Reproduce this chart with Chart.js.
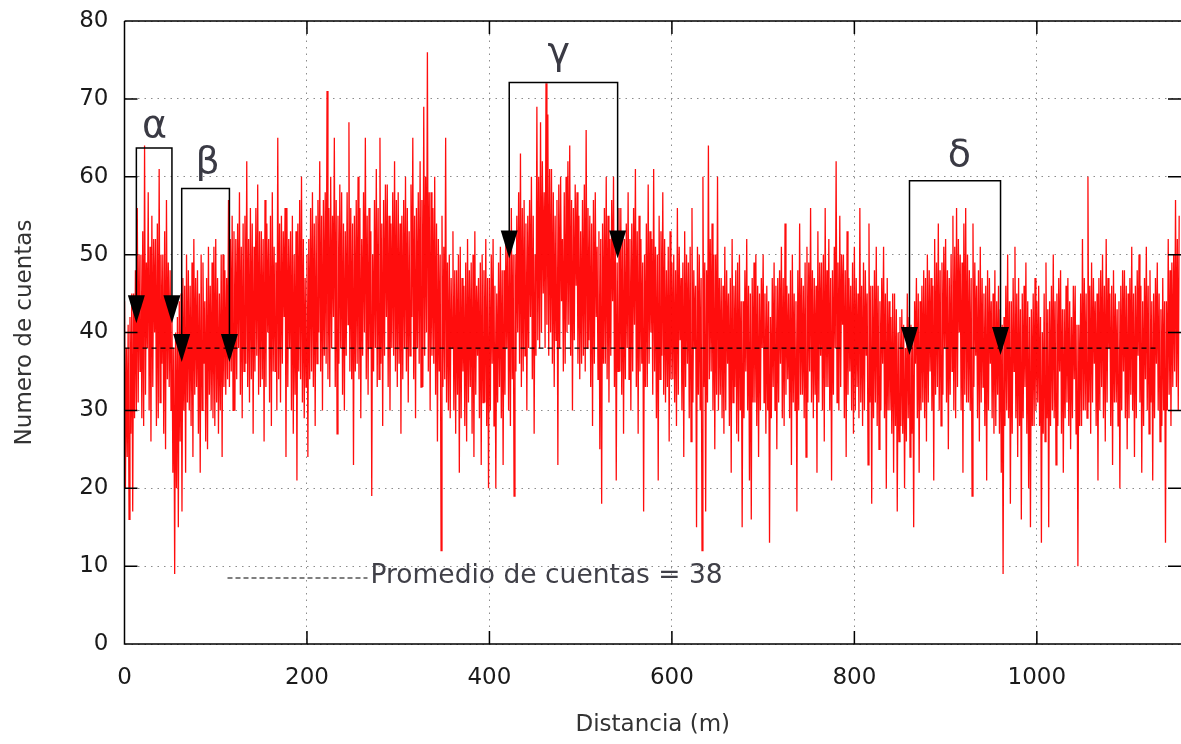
<!DOCTYPE html>
<html>
<head>
<meta charset="utf-8">
<script src="https://cdn.jsdelivr.net/npm/chart.js@4.4.0/dist/chart.umd.min.js"></script>
<style>
  html, body { margin: 0; padding: 0; background: #fff; }
</style>
</head>
<body>
<canvas id="grafico" width="1181" height="744"></canvas>
<script>
// metros entre muestras
const paso = 1;

const cuentas = [
  44, 20, 38, 24, 41, 16, 42, 27, 45, 17, 45, 29, 48, 30, 56, 31, 50, 35, 50, 29, 53, 28, 64, 32, 49, 38, 58, 30, 51, 26, 55, 33, 52, 40, 52, 28, 54, 29, 61, 31, 50, 36, 50, 27, 53, 25, 57, 34, 49, 33,
  48, 30, 43, 22, 38, 9, 40, 20, 42, 15, 44, 26, 45, 17, 47, 30, 46, 22, 50, 31, 48, 30, 46, 28, 49, 24, 52, 32, 47, 33, 48, 27, 45, 22, 50, 30, 49, 36, 44, 26, 47, 25, 51, 32, 46, 30, 49, 29, 51, 28,
  52, 31, 47, 27, 45, 30, 50, 24, 50, 33, 48, 32, 47, 34, 57, 33, 52, 35, 55, 30, 53, 30, 52, 34, 54, 38, 58, 32, 51, 29, 54, 35, 55, 36, 62, 33, 52, 31, 56, 34, 54, 27, 51, 35, 56, 37, 59, 32, 53, 33,
  53, 34, 52, 26, 57, 33, 54, 40, 52, 31, 55, 28, 58, 35, 51, 35, 49, 30, 65, 34, 54, 31, 55, 36, 53, 42, 56, 24, 56, 33, 52, 38, 53, 30, 55, 27, 50, 32, 53, 21, 54, 35, 57, 34, 60, 31, 52, 29, 47, 33,
  50, 24, 52, 34, 56, 35, 58, 33, 54, 28, 55, 36, 57, 40, 62, 35, 55, 30, 57, 37, 58, 36, 71, 34, 56, 33, 60, 38, 55, 42, 65, 33, 57, 27, 55, 36, 59, 38, 58, 32, 54, 30, 53, 37, 58, 41, 67, 35, 56, 34,
  54, 23, 55, 35, 57, 36, 60, 34, 56, 29, 52, 37, 58, 40, 65, 34, 55, 32, 56, 38, 53, 19, 50, 35, 57, 38, 61, 33, 56, 34, 65, 36, 54, 28, 57, 37, 59, 42, 59, 33, 55, 30, 54, 38, 58, 37, 62, 35, 57, 33,
  58, 36, 54, 27, 55, 34, 57, 38, 60, 35, 56, 31, 53, 37, 59, 42, 65, 34, 55, 29, 56, 38, 58, 36, 62, 33, 57, 33, 69, 37, 60, 40, 76, 35, 58, 30, 58, 37, 56, 36, 60, 32, 54, 26, 52, 35, 50, 12, 55, 33,
  51, 34, 65, 31, 49, 30, 50, 29, 47, 38, 53, 30, 48, 27, 48, 32, 50, 22, 51, 29, 47, 35, 46, 28, 49, 26, 52, 31, 48, 33, 49, 27, 50, 24, 53, 32, 46, 37, 47, 29, 49, 23, 50, 31, 48, 31, 52, 28, 47, 20,
  47, 30, 50, 36, 52, 28, 46, 20, 45, 31, 49, 33, 51, 29, 48, 23, 48, 32, 52, 38, 53, 30, 51, 28, 56, 34, 50, 19, 50, 35, 55, 40, 58, 36, 63, 33, 56, 35, 57, 37, 54, 30, 55, 38, 57, 42, 60, 34, 55, 27,
  50, 37, 69, 39, 60, 38, 67, 40, 62, 45, 58, 38, 72, 41, 68, 37, 61, 40, 61, 36, 58, 33, 55, 39, 57, 23, 59, 38, 60, 44, 52, 35, 58, 36, 60, 40, 62, 41, 64, 37, 57, 30, 56, 39, 59, 46, 58, 36, 55, 34,
  53, 36, 57, 37, 59, 35, 66, 38, 56, 39, 55, 33, 54, 28, 57, 36, 58, 42, 51, 34, 53, 25, 52, 18, 54, 36, 56, 36, 60, 34, 55, 31, 52, 37, 57, 44, 60, 33, 52, 21, 49, 35, 56, 35, 56, 32, 53, 27, 52, 34,
  54, 38, 58, 34, 52, 30, 54, 35, 56, 41, 61, 33, 53, 27, 55, 35, 52, 36, 49, 17, 50, 33, 54, 33, 59, 36, 53, 40, 52, 32, 61, 35, 51, 29, 50, 21, 55, 34, 53, 37, 58, 32, 52, 31, 48, 33, 51, 26, 53, 34,
  49, 34, 50, 31, 48, 28, 56, 32, 51, 39, 47, 30, 49, 24, 53, 33, 50, 36, 49, 29, 51, 26, 56, 31, 48, 38, 46, 15, 51, 32, 50, 30, 47, 12, 60, 33, 49, 17, 48, 31, 64, 34, 52, 35, 54, 30, 50, 25, 50, 32,
  60, 30, 47, 32, 47, 29, 46, 27, 51, 30, 48, 36, 45, 28, 47, 22, 52, 31, 46, 33, 48, 27, 49, 26, 50, 30, 44, 15, 44, 29, 48, 35, 52, 30, 46, 21, 45, 16, 47, 31, 49, 31, 50, 28, 46, 24, 45, 30, 47, 38,
  50, 31, 45, 27, 46, 30, 44, 13, 42, 29, 47, 33, 49, 30, 46, 25, 47, 31, 48, 36, 51, 29, 47, 28, 54, 32, 46, 34, 45, 29, 48, 23, 50, 31, 45, 30, 44, 17, 48, 30, 54, 32, 47, 32, 46, 29, 49, 24, 51, 31,
  49, 35, 56, 31, 48, 29, 47, 32, 46, 22, 53, 31, 49, 37, 49, 30, 50, 26, 56, 33, 48, 33, 52, 30, 47, 21, 48, 32, 51, 38, 62, 31, 49, 30, 55, 33, 50, 41, 50, 29, 48, 24, 53, 32, 47, 35, 46, 30, 49, 27,
  51, 30, 47, 33, 45, 29, 56, 31, 46, 28, 49, 30, 48, 37, 45, 23, 54, 31, 46, 18, 46, 29, 48, 31, 51, 28, 46, 25, 44, 30, 47, 36, 51, 29, 45, 20, 47, 30, 44, 30, 42, 27, 45, 22, 45, 28, 43, 17, 40, 26,
  42, 28, 43, 27, 41, 20, 38, 26, 45, 29, 42, 24, 41, 27, 40, 15, 44, 36, 47, 29, 45, 22, 44, 30, 46, 31, 48, 29, 47, 26, 50, 31, 48, 35, 47, 30, 46, 21, 52, 32, 49, 33, 54, 30, 48, 28, 49, 32, 51, 38,
  52, 31, 48, 25, 47, 32, 50, 35, 55, 30, 51, 29, 56, 33, 52, 40, 50, 30, 49, 22, 54, 32, 56, 31, 50, 31, 48, 30, 47, 19, 54, 33, 49, 37, 46, 29, 48, 26, 51, 31, 47, 33, 45, 28, 46, 21, 48, 30, 47, 36,
  44, 29, 45, 27, 48, 28, 44, 32, 46, 27, 43, 22, 41, 9, 42, 28, 46, 30, 50, 29, 44, 18, 44, 27, 47, 35, 51, 29, 45, 24, 47, 28, 43, 16, 45, 29, 46, 33, 49, 27, 44, 20, 42, 15, 43, 28, 45, 28, 47, 30,
  44, 31, 46, 28, 42, 13, 40, 27, 45, 26, 49, 29, 43, 15, 44, 28, 46, 30, 50, 29, 44, 23, 45, 28, 47, 35, 48, 27, 43, 22, 43, 29, 46, 31, 47, 28, 44, 25, 42, 29, 46, 34, 46, 27, 41, 10, 41, 28, 45, 28,
  52, 30, 47, 30, 45, 29, 60, 31, 46, 27, 49, 31, 47, 36, 44, 28, 45, 21, 47, 30, 48, 33, 50, 29, 46, 26, 52, 31, 47, 38, 45, 28, 46, 23, 48, 31, 45, 31, 43, 28, 44, 20, 46, 30, 48, 35, 48, 29, 46, 25,
  45, 29, 47, 32, 51, 30, 45, 24, 46, 29, 48, 37, 50, 31, 46, 22, 44, 28, 47, 34, 51, 30, 46, 27, 48, 31, 44, 21, 45, 29, 47, 36, 49, 30, 45, 26, 43, 28, 47, 30, 44, 13, 44, 30, 52, 32, 48, 28, 49, 33,
  50, 35, 57, 33, 52, 30, 55
];

// promedio de cuentas
const promedio = 38;
const finPromedio = 1132;

// zonas marcadas
const zonas = ['α', 'β', 'γ', 'δ'];
const zonaInicio = [13, 62.7, 421.7, 860.4];
const zonaFin = [52, 115, 540.5, 960.2];
const zonaTope = [63.7, 58.5, 72.1, 59.5];
const zonaFlecha = [41.2, 36.2, 49.5, 37.1];
const letraX = [32.9, 91, 476, 915.2];
const letraY = [66.4, 61.8, 75.8, 62.7];

const ticksX = [0, 200, 400, 600, 800, 1000];
const ticksY = [0, 10, 20, 30, 40, 50, 60, 70, 80];

const fuente = 'DejaVu Sans';

const serie = cuentas.map((v, i) => ({ x: i * paso, y: v }));

const marcas = {
  id: 'marcas',
  beforeDraw(chart) {
    const ctx = chart.ctx;
    ctx.save();
    ctx.fillStyle = '#fff';
    ctx.fillRect(0, 0, chart.width, chart.height);
    ctx.restore();
  },
  afterDatasetsDraw(chart) {
    const { ctx, chartArea: a, scales: { x, y } } = chart;
    ctx.save();

    // corchetes y flechas
    ctx.strokeStyle = '#000';
    ctx.fillStyle = '#000';
    ctx.lineWidth = 1.5;
    for (let i = 0; i < zonas.length; i++) {
      const x0 = x.getPixelForValue(zonaInicio[i]);
      const x1 = x.getPixelForValue(zonaFin[i]);
      const yt = y.getPixelForValue(zonaTope[i]);
      const yf = y.getPixelForValue(zonaFlecha[i]);
      ctx.beginPath();
      ctx.moveTo(x0, yf - 10);
      ctx.lineTo(x0, yt);
      ctx.lineTo(x1, yt);
      ctx.lineTo(x1, yf - 10);
      ctx.stroke();
      [x0, x1].forEach(px => {
        ctx.beginPath();
        ctx.moveTo(px - 8.5, yf - 28);
        ctx.lineTo(px + 8.5, yf - 28);
        ctx.lineTo(px, yf);
        ctx.closePath();
        ctx.fill();
      });
    }

    // letras griegas
    ctx.fillStyle = '#3a3a44';
    ctx.font = `38px "${fuente}"`;
    ctx.textAlign = 'center';
    ctx.textBaseline = 'middle';
    for (let i = 0; i < zonas.length; i++) {
      ctx.fillText(zonas[i], x.getPixelForValue(letraX[i]), y.getPixelForValue(letraY[i]));
    }

    // leyenda
    const lx = a.left + 103;
    const ly = a.top + 557;
    ctx.strokeStyle = '#000';
    ctx.lineWidth = 1.2;
    ctx.setLineDash([5, 3]);
    ctx.beginPath();
    ctx.moveTo(lx, ly);
    ctx.lineTo(lx + 140, ly);
    ctx.stroke();
    ctx.setLineDash([]);
    ctx.fillStyle = '#404048';
    ctx.font = `26.5px "${fuente}"`;
    ctx.textAlign = 'left';
    ctx.fillText('Promedio de cuentas = ' + promedio, lx + 143, ly - 2);

    // marco y marcas de ejes
    ctx.strokeStyle = '#000';
    ctx.lineWidth = 1.5;
    ctx.beginPath();
    ctx.moveTo(a.left, a.top);
    ctx.lineTo(a.left, a.bottom);
    ctx.lineTo(a.right, a.bottom);
    ctx.moveTo(a.left, a.top);
    ctx.lineTo(a.right, a.top);
    ticksX.forEach(v => {
      const px = x.getPixelForValue(v);
      ctx.moveTo(px, a.bottom);
      ctx.lineTo(px, a.bottom - 13);
      ctx.moveTo(px, a.top);
      ctx.lineTo(px, a.top + 13);
    });
    ticksY.forEach(v => {
      const py = y.getPixelForValue(v);
      ctx.moveTo(a.left, py);
      ctx.lineTo(a.left + 13, py);
      ctx.moveTo(a.right, py);
      ctx.lineTo(a.right - 13, py);
    });
    ctx.stroke();
    ctx.restore();
  }
};

new Chart(document.getElementById('grafico'), {
  type: 'line',
  data: {
    datasets: [
      {
        label: 'Promedio de cuentas = ' + promedio,
        data: [{ x: 0, y: promedio }, { x: finPromedio, y: promedio }],
        borderColor: '#000',
        borderWidth: 1.2,
        borderDash: [5, 4],
        pointRadius: 0
      },
      {
        label: 'Cuentas',
        data: serie,
        borderColor: 'rgba(255, 0, 0, 0.95)',
        borderWidth: 1.3,
        pointRadius: 0,
        tension: 0
      }
    ]
  },
  options: {
    responsive: false,
    animation: false,
    devicePixelRatio: 1,
    layout: { padding: { top: 21, right: 0, bottom: 0, left: 0 } },
    plugins: {
      legend: { display: false },
      tooltip: { enabled: false }
    },
    scales: {
      x: {
        type: 'linear',
        min: 0,
        max: 1158,
        afterFit: s => { s.height = 100; },
        ticks: {
          stepSize: 200,
          includeBounds: false,
          maxRotation: 0,
          padding: 20,
          color: '#1a1a1a',
          font: { family: fuente, size: 23 },
          callback: v => String(v)
        },
        grid: { color: '#8c8c8c', lineWidth: 1, drawTicks: false },
        border: { display: false, dash: [1.5, 5] },
        title: {
          display: true,
          text: 'Distancia (m)',
          color: '#333',
          font: { family: fuente, size: 23 },
          padding: { top: 0, bottom: 5 }
        }
      },
      y: {
        min: 0,
        max: 80,
        afterFit: s => { s.width = 124.5; s.paddingTop = 0; s.paddingBottom = 0; },
        ticks: {
          stepSize: 10,
          padding: 16,
          color: '#1a1a1a',
          font: { family: fuente, size: 23 }
        },
        grid: { color: '#8c8c8c', lineWidth: 1, drawTicks: false },
        border: { display: false, dash: [1.5, 5] },
        title: {
          display: true,
          text: 'Numero de cuentas',
          color: '#333',
          font: { family: fuente, size: 23 },
          padding: { top: 11, bottom: 0 }
        }
      }
    }
  },
  plugins: [marcas]
});
</script>
</body>
</html>
